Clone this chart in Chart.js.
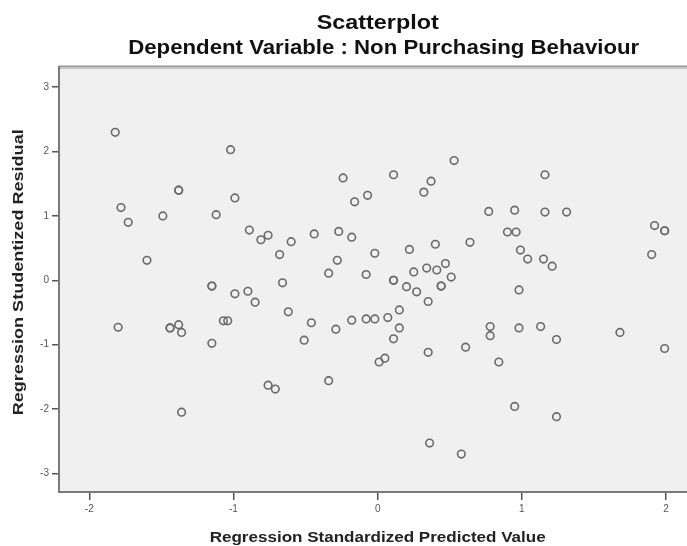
<!DOCTYPE html>
<html>
<head>
<meta charset="utf-8">
<script src="https://cdn.jsdelivr.net/npm/chart.js@4/dist/chart.umd.min.js"></script>
<style>
  html, body { margin: 0; padding: 0; background: #ffffff; }
  #wrap { width: 687px; height: 546px; position: relative; }
</style>
</head>
<body>
<div id="wrap"><canvas id="c" width="687" height="546"></canvas></div>
<script>
// ---- Data ----
const titleLines = ["Scatterplot", "Dependent Variable : Non Purchasing Behaviour"];
const xAxisTitle = "Regression Standardized Predicted Value";
const yAxisTitle = "Regression Studentized Residual";
const xTickValues = [-2, -1, 0, 1, 2];
const yTickValues = [-3, -2, -1, 0, 1, 2, 3];

const predicted = [
  -1.82, -1.02, -1.38, -1.38, -1.78, -0.99, -1.73, -1.49, -1.12, -1.60,
   0.53, -0.24,  0.11,  0.37,  0.32, -0.16, -0.07, -0.89, -0.81, -0.76,
  -0.60, -0.68, -0.44, -0.27, -0.18, -0.02,  0.22,  0.40, -0.28, -0.34,
  -0.08,  0.11,  0.11,  0.25,  0.34,  0.41,  0.47,  0.51, -0.66,  1.16,
   0.77,  0.95,  1.16,  1.31,  0.90,  0.96,  0.64,  1.92,  1.99,  1.99,
   1.90,  0.99,  1.04,  1.15,  1.21, -1.15, -1.15, -0.99, -1.80, -1.44,
  -1.44, -1.38, -1.36, -1.07, -1.04, -1.15, -1.36, -0.90, -0.85,  0.20,
   0.27,  0.44,  0.44,  0.35, -0.62, -0.46, -0.29, -0.18, -0.08, -0.02,
   0.07,  0.15,  0.15,  0.11, -0.51,  0.35,  0.01,  0.05, -0.76, -0.71,
  -0.34,  0.36,  0.98,  0.78,  0.78,  0.98,  1.13,  1.24,  1.68,  1.99,
   0.61,  0.84,  0.95,  1.24,  0.58
];
const residual = [
   2.30,  2.03,  1.40,  1.40,  1.13,  1.28,  0.90,  1.00,  1.02,  0.31,
   1.86,  1.59,  1.64,  1.54,  1.37,  1.22,  1.32,  0.78,  0.63,  0.70,
   0.60,  0.40,  0.72,  0.76,  0.67,  0.42,  0.48,  0.56,  0.31,  0.11,
   0.09,  0.00,  0.00,  0.13,  0.19,  0.16,  0.26,  0.05, -0.04,  1.64,
   1.07,  1.09,  1.06,  1.06,  0.75,  0.75,  0.59,  0.85,  0.77,  0.77,
   0.40,  0.47,  0.33,  0.33,  0.22, -0.09, -0.09, -0.21, -0.73, -0.74,
  -0.74, -0.69, -0.81, -0.63, -0.63, -0.98, -2.05, -0.17, -0.34, -0.10,
  -0.18, -0.09, -0.09, -0.33, -0.49, -0.66, -0.76, -0.62, -0.60, -0.60,
  -0.58, -0.46, -0.74, -0.91, -0.93, -1.12, -1.27, -1.21, -1.63, -1.69,
  -1.56, -2.53, -0.15, -0.72, -0.86, -0.74, -0.72, -0.92, -0.81, -1.06,
  -1.04, -1.27, -1.96, -2.12, -2.70
];

const points = predicted.map((x, i) => ({ x: x, y: residual[i] }));

const frameAndText = {
  id: 'frameAndText',
  beforeDraw(chart) {
    const { ctx, chartArea: a } = chart;
    ctx.save();
    ctx.fillStyle = '#f0f0f0';
    ctx.fillRect(a.left, a.top, a.right - a.left, a.bottom - a.top);
    ctx.restore();
  },
  beforeDatasetsDraw(chart) {
    const { ctx, chartArea: a } = chart;
    ctx.save();
    ctx.strokeStyle = '#c8c8c8';
    ctx.lineWidth = 1;
    ctx.beginPath(); ctx.moveTo(a.left, a.top + 2.5); ctx.lineTo(a.right, a.top + 2.5); ctx.stroke();
    ctx.strokeStyle = '#9a9a9a';
    ctx.lineWidth = 2;
    ctx.beginPath(); ctx.moveTo(a.left, a.top + 0.5); ctx.lineTo(a.right, a.top + 0.5); ctx.stroke();
    ctx.strokeStyle = '#7a7a7a';
    ctx.lineWidth = 2;
    ctx.beginPath();
    ctx.moveTo(a.left, a.top);
    ctx.lineTo(a.left, a.bottom);
    ctx.lineTo(a.right, a.bottom);
    ctx.stroke();
    ctx.restore();
  },
  afterDraw(chart) {
    const { ctx } = chart;
    const cx = chart.scales.x.getPixelForValue(0);
    const drawFit = (text, x, y, font, targetW) => {
      ctx.font = font;
      const w = ctx.measureText(text).width;
      const s = targetW / w;
      ctx.save();
      ctx.translate(x, y);
      ctx.scale(s, 1);
      ctx.fillText(text, 0, 0);
      ctx.restore();
    };
    ctx.save();
    ctx.fillStyle = '#111111';
    ctx.textAlign = 'center';
    ctx.textBaseline = 'alphabetic';
    drawFit(titleLines[0], cx, 29, 'bold 21px "Liberation Sans", Arial, sans-serif', 122);
    drawFit(titleLines[1], cx + 6, 54, 'bold 21px "Liberation Sans", Arial, sans-serif', 511);
    ctx.fillStyle = '#222222';
    drawFit(xAxisTitle, cx, 542, 'bold 15px "Liberation Sans", Arial, sans-serif', 336);
    ctx.save();
    const cy = chart.scales.y.getPixelForValue(0);
    ctx.translate(23, cy - 8);
    ctx.rotate(-Math.PI / 2);
    drawFit(yAxisTitle, 0, 0, 'bold 15px "Liberation Sans", Arial, sans-serif', 286);
    ctx.restore();
    ctx.restore();
  }
};

new Chart(document.getElementById('c'), {
  type: 'scatter',
  data: {
    datasets: [{
      data: points,
      pointStyle: 'circle',
      pointRadius: 3.8,
      pointBorderWidth: 1.6,
      pointBorderColor: '#6a6a6a',
      pointBackgroundColor: 'rgba(0,0,0,0)',
      pointHoverRadius: 3.8,
      clip: false
    }]
  },
  plugins: [frameAndText],
  options: {
    responsive: false,
    animation: false,
    events: [],
    layout: { autoPadding: false, padding: { top: 66, right: 0, left: 0, bottom: 0 } },
    plugins: {
      legend: { display: false },
      title: { display: false },
      tooltip: { enabled: false }
    },
    scales: {
      x: {
        type: 'linear',
        min: -2.21,
        max: 2.145,
        afterBuildTicks(scale) { scale.ticks = xTickValues.map(v => ({ value: v })); },
        afterFit(scale) { scale.height = 54; scale.paddingLeft = 0; scale.paddingRight = 0; },
        border: { display: false },
        grid: { drawOnChartArea: false, drawTicks: true, tickLength: 8, tickColor: '#555555', lineWidth: 1.5 },
        ticks: {
          color: '#555555',
          padding: 3,
          font: { family: '"Liberation Sans", Arial, sans-serif', size: 10 },
          maxRotation: 0,
          callback: v => String(v)
        }
      },
      y: {
        type: 'linear',
        min: -3.29,
        max: 3.33,
        afterBuildTicks(scale) { scale.ticks = yTickValues.map(v => ({ value: v })); },
        afterFit(scale) { scale.width = 59; scale.paddingTop = 0; scale.paddingBottom = 0; },
        border: { display: false },
        grid: { drawOnChartArea: false, drawTicks: true, tickLength: 7, tickColor: '#555555', lineWidth: 1.5 },
        ticks: {
          color: '#555555',
          padding: 3,
          font: { family: '"Liberation Sans", Arial, sans-serif', size: 10 },
          callback: v => String(v)
        }
      }
    }
  }
});
</script>
</body>
</html>
